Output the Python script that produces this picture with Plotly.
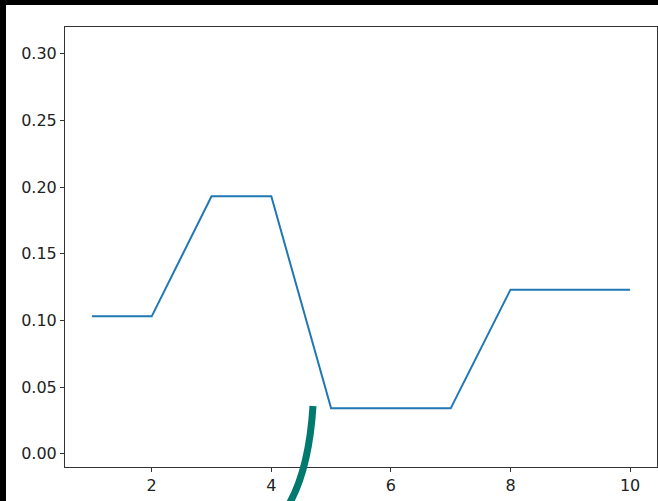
import plotly.graph_objects as go

# Series data
x_vals = [1, 2, 3, 4, 5, 6, 7, 8, 9, 10]
y_vals = [0.103, 0.103, 0.193, 0.193, 0.034, 0.034, 0.034, 0.123, 0.123, 0.123]

x_ticks = [2, 4, 6, 8, 10]
y_ticks = [0.00, 0.05, 0.10, 0.15, 0.20, 0.25, 0.30]

W, H = 658, 501
ML, MR, MT, MB = 65, 1, 27, 34
PW, PH = W - ML - MR, H - MT - MB


def px(x):
    return (x - ML) / PW


def py(y):
    return (H - MB - y) / PH


fig = go.Figure()
fig.add_trace(go.Scatter(
    x=x_vals, y=y_vals, mode="lines",
    line=dict(color="#1f77b4", width=2),
    showlegend=False, hoverinfo="skip",
))

axis_common = dict(
    showgrid=False, zeroline=False,
    showline=True, linecolor="#333333", linewidth=1, mirror=True,
    ticks="outside", ticklen=4, tickwidth=1, tickcolor="#333333",
    tickfont=dict(family="DejaVu Sans", size=16, color="#222222"),
)

fig.update_layout(
    width=W, height=H,
    margin=dict(l=ML, r=MR, t=MT, b=MB),
    paper_bgcolor="black", plot_bgcolor="white",
    xaxis=dict(range=[0.55, 10.45], tickvals=x_ticks, **axis_common),
    yaxis=dict(range=[-0.01, 0.32], tickvals=y_ticks, tickformat=".2f", **axis_common),
    shapes=[
        # white canvas behind the axes
        dict(type="rect", xref="paper", yref="paper",
             x0=px(6), x1=px(W + 2), y0=py(H + 2), y1=py(5),
             fillcolor="white", line=dict(width=0), layer="below"),
        # teal pen stroke
        dict(type="path", xref="paper", yref="paper",
             path=f"M {px(313)},{py(406)} Q {px(309)},{py(470)} {px(288)},{py(506)}",
             line=dict(color="#00796f", width=7), layer="above"),
    ],
)

fig.write_html("out.html")
